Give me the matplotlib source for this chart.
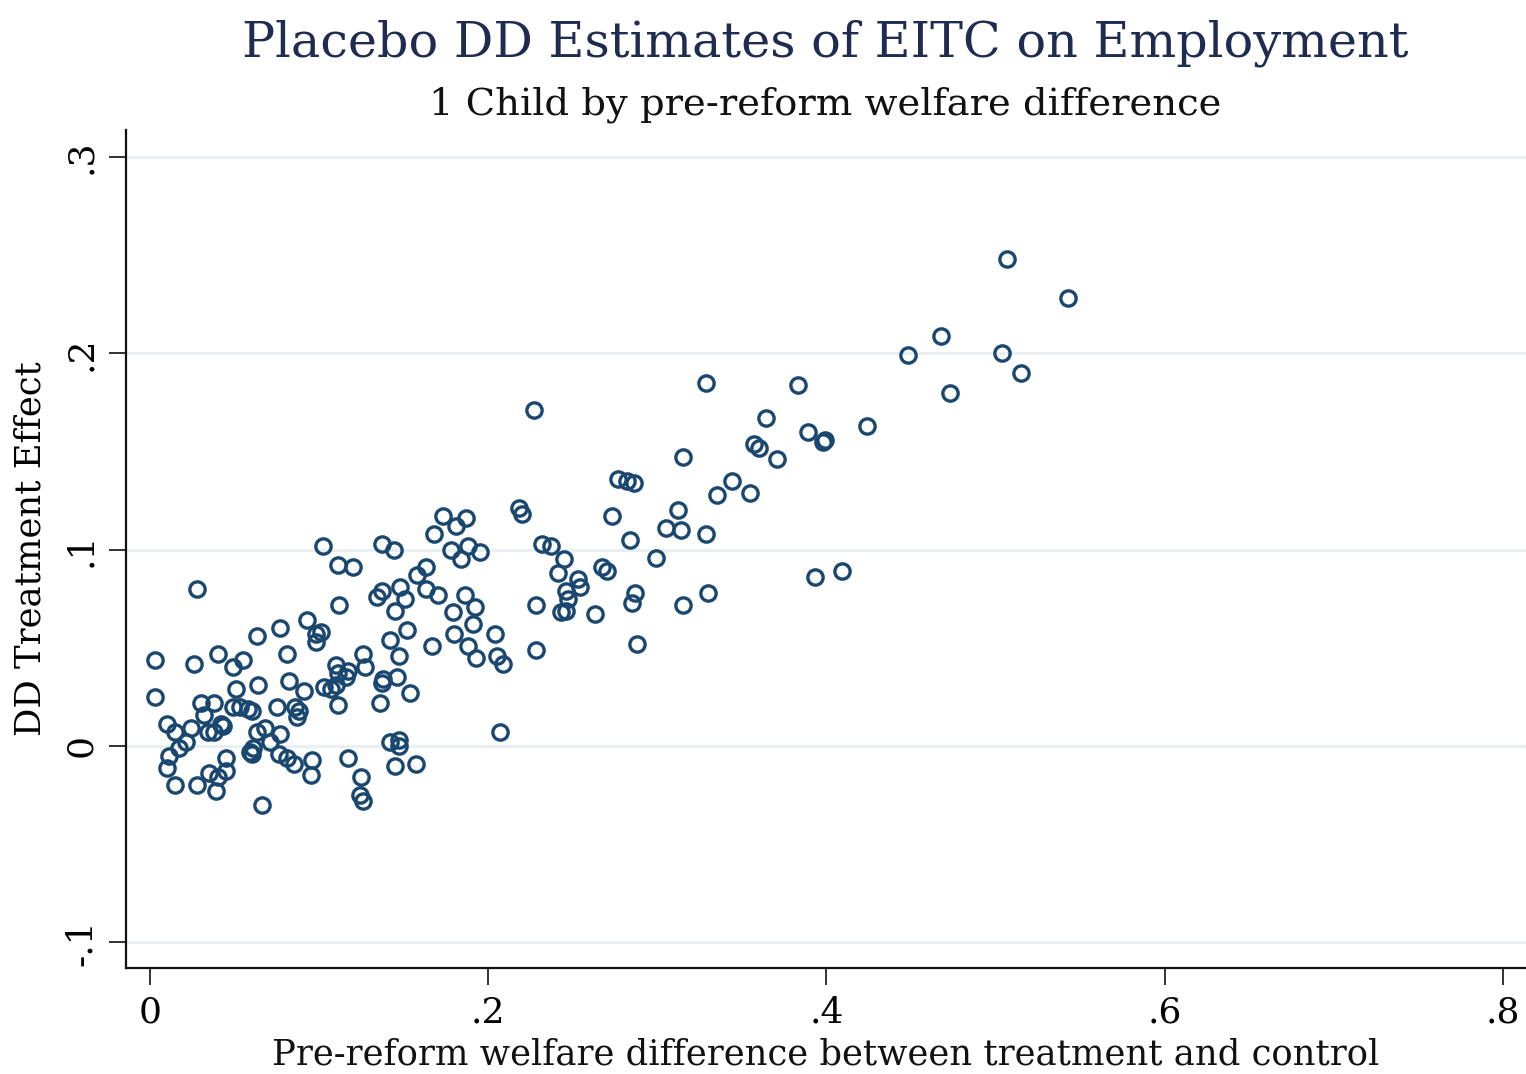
import numpy as np
import matplotlib
matplotlib.use("Agg")
from matplotlib import pyplot as plt

# pre-reform welfare difference (x) and placebo DD estimate (y), one pair per state/sample
welfare_diff = [
    0.003, 0.003, 0.026, 0.040, 0.049, 0.055, 0.063, 0.077, 0.093, 0.098,
    0.101, 0.098, 0.081, 0.082, 0.091, 0.103, 0.064, 0.051, 0.030, 0.038,
    0.032, 0.049, 0.053, 0.058, 0.060, 0.075, 0.086, 0.088, 0.087, 0.010,
    0.015, 0.024, 0.034, 0.038, 0.043, 0.042, 0.063, 0.068, 0.077, 0.071,
    0.061, 0.060, 0.059, 0.076, 0.081, 0.085, 0.096, 0.095, 0.021, 0.017,
    0.011, 0.010, 0.045, 0.045, 0.035, 0.040, 0.039, 0.015, 0.028, 0.066,
    0.028, 0.102, 0.142, 0.152, 0.167, 0.180, 0.191, 0.204, 0.188, 0.193,
    0.205, 0.209, 0.126, 0.127, 0.110, 0.111, 0.117, 0.116, 0.147, 0.138,
    0.137, 0.146, 0.154, 0.107, 0.110, 0.111, 0.136, 0.207, 0.142, 0.147,
    0.147, 0.117, 0.145, 0.157, 0.125, 0.124, 0.126, 0.137, 0.144, 0.111,
    0.120, 0.168, 0.173, 0.181, 0.187, 0.178, 0.184, 0.188, 0.195, 0.163,
    0.158, 0.112, 0.134, 0.137, 0.148, 0.151, 0.145, 0.163, 0.170, 0.186,
    0.192, 0.179, 0.218, 0.227, 0.220, 0.232, 0.237, 0.245, 0.241, 0.253,
    0.254, 0.246, 0.247, 0.243, 0.246, 0.228, 0.263, 0.267, 0.270, 0.273,
    0.284, 0.277, 0.282, 0.286, 0.315, 0.312, 0.305, 0.314, 0.299, 0.287,
    0.285, 0.315, 0.228, 0.288, 0.507, 0.543, 0.468, 0.448, 0.504, 0.515,
    0.473, 0.329, 0.383, 0.364, 0.424, 0.389, 0.399, 0.398, 0.357, 0.360,
    0.371, 0.344, 0.335, 0.355, 0.329, 0.393, 0.409, 0.330,
]
dd_effect = [
    0.044, 0.025, 0.042, 0.047, 0.040, 0.044, 0.056, 0.060, 0.064, 0.057,
    0.058, 0.053, 0.047, 0.033, 0.028, 0.030, 0.031, 0.029, 0.022, 0.022,
    0.016, 0.020, 0.020, 0.019, 0.018, 0.020, 0.020, 0.018, 0.015, 0.011,
    0.007, 0.009, 0.007, 0.007, 0.010, 0.011, 0.007, 0.009, 0.006, 0.002,
    -0.001, -0.004, -0.003, -0.004, -0.006, -0.009, -0.007, -0.015, 0.002, -0.001,
    -0.005, -0.011, -0.006, -0.013, -0.014, -0.016, -0.023, -0.020, -0.020, -0.030,
    0.080, 0.102, 0.054, 0.059, 0.051, 0.057, 0.062, 0.057, 0.051, 0.045,
    0.046, 0.042, 0.047, 0.040, 0.041, 0.037, 0.038, 0.035, 0.046, 0.034,
    0.032, 0.035, 0.027, 0.029, 0.031, 0.021, 0.022, 0.007, 0.002, 0.003,
    0.000, -0.006, -0.010, -0.009, -0.016, -0.025, -0.028, 0.103, 0.100, 0.092,
    0.091, 0.108, 0.117, 0.112, 0.116, 0.100, 0.095, 0.102, 0.099, 0.091,
    0.087, 0.072, 0.076, 0.079, 0.081, 0.075, 0.069, 0.080, 0.077, 0.077,
    0.071, 0.068, 0.121, 0.171, 0.118, 0.103, 0.102, 0.095, 0.088, 0.085,
    0.081, 0.079, 0.075, 0.068, 0.069, 0.072, 0.067, 0.091, 0.089, 0.117,
    0.105, 0.136, 0.135, 0.134, 0.147, 0.120, 0.111, 0.110, 0.096, 0.078,
    0.073, 0.072, 0.049, 0.052, 0.248, 0.228, 0.209, 0.199, 0.200, 0.190,
    0.180, 0.185, 0.184, 0.167, 0.163, 0.160, 0.156, 0.155, 0.154, 0.152,
    0.146, 0.135, 0.128, 0.129, 0.108, 0.086, 0.089, 0.078,
]

x_ticks = [0, 0.2, 0.4, 0.6, 0.8]
x_tick_labels = ["0", ".2", ".4", ".6", ".8"]
y_ticks = [-0.1, 0, 0.1, 0.2, 0.3]
y_tick_labels = ["-.1", "0", ".1", ".2", ".3"]

navy = "#1a476f"
serif = ["DejaVu Serif"]

fig = plt.figure(figsize=(15.26, 10.74), dpi=100)
ax = fig.add_axes([0.0826, 0.0987, 0.9174, 0.7803])

ax.plot(welfare_diff, dd_effect, linestyle="none", marker="o", ms=11,
        mfc="none", mec=navy, mew=2.4, zorder=3)

ax.set_xlim(-0.0142, 0.8137)
ax.set_ylim(-0.1131, 0.3138)

# light horizontal grid, Stata style
for yv in y_ticks:
    ax.axhline(yv, color="#e8f0f2", lw=2.2, zorder=1)

ax.set_xticks(x_ticks)
ax.set_xticklabels(x_tick_labels, family=serif, fontsize=26)
ax.set_yticks(y_ticks)
ax.set_yticklabels(y_tick_labels, family=serif, fontsize=26, rotation=90,
                   va="center")
ax.tick_params(axis="both", length=12, width=1.3, color="#222222")
ax.tick_params(axis="x", pad=8)
ax.tick_params(axis="y", pad=8)

for side in ["top", "right"]:
    ax.spines[side].set_visible(False)
for side in ["left", "bottom"]:
    ax.spines[side].set_linewidth(1.6)
    ax.spines[side].set_color("#111111")

ax.set_ylabel("DD Treatment Effect", family=serif, fontsize=25.5, labelpad=12)
fig.text(0.541, 0.009,
         "Pre-reform welfare difference between treatment and control",
         family=serif, fontsize=25.5, color="#111111", ha="center",
         va="baseline")

fig.text(0.541, 0.947, "Placebo DD Estimates of EITC on Employment",
         family=serif, fontsize=35.5, color="#1f2c52", ha="center", va="baseline")
fig.text(0.541, 0.893, "1 Child by pre-reform welfare difference",
         family=serif, fontsize=27.7, color="#111111", ha="center", va="baseline")

fig.savefig("out.png", dpi=100)
